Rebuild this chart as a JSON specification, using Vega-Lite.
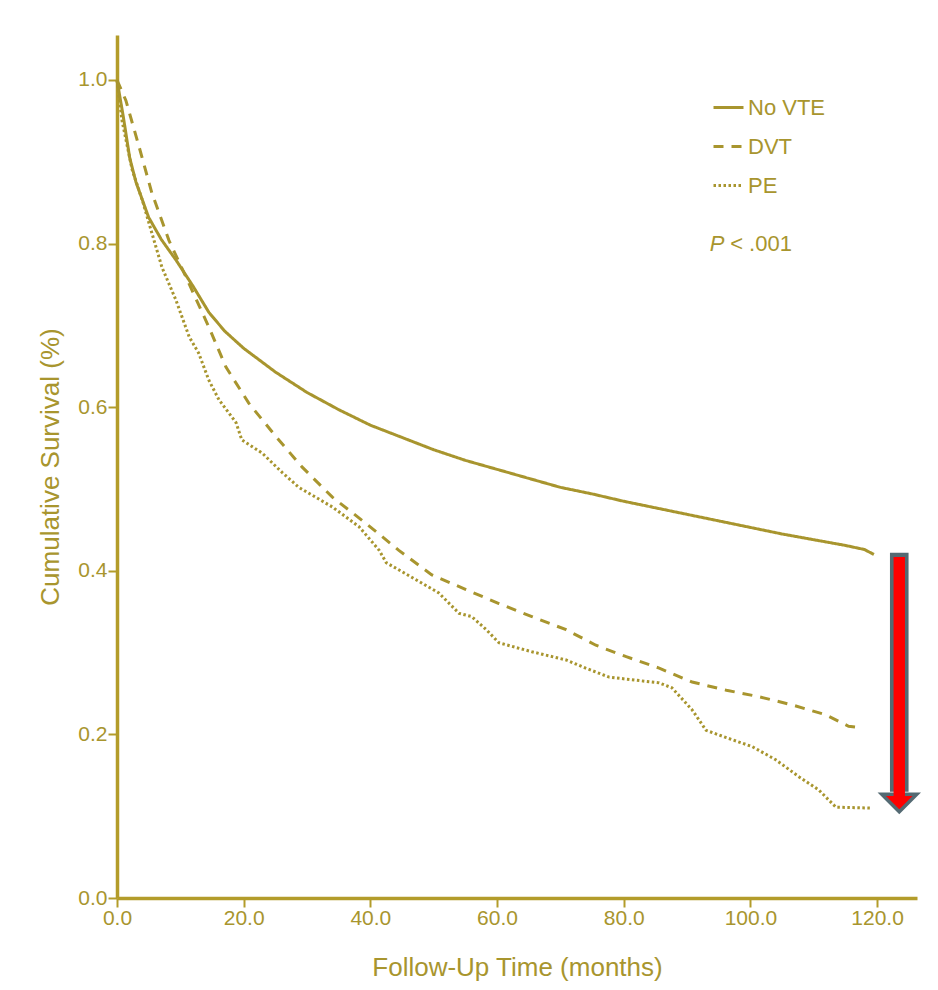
{
  "$schema": "https://vega.github.io/schema/vega-lite/v6.json",
  "autosize": {"type": "none"},
  "width": 800,
  "height": 863,
  "padding": {"left": 117, "top": 35, "right": 21, "bottom": 92},
  "background": "#ffffff",
  "config": {
    "view": {"stroke": null},
    "font": "Liberation Sans",
    "axis": {
      "domainColor": "#B39C2A",
      "domainWidth": 3.5,
      "tickColor": "#B39C2A",
      "tickWidth": 2,
      "tickSize": 9,
      "labelColor": "#A8952E",
      "labelFont": "Liberation Sans",
      "labelFontSize": 21,
      "labelFlush": false,
      "titleColor": "#A8952E",
      "titleFont": "Liberation Sans",
      "titleFontSize": 26,
      "titleFontWeight": "normal",
      "grid": false
    }
  },
  "datasets": {
    "curves": [
      {"group": "No VTE", "t": 0, "s": 1.0},
      {"group": "No VTE", "t": 1, "s": 0.955},
      {"group": "No VTE", "t": 2, "s": 0.905},
      {"group": "No VTE", "t": 3, "s": 0.875},
      {"group": "No VTE", "t": 5, "s": 0.832},
      {"group": "No VTE", "t": 7, "s": 0.805},
      {"group": "No VTE", "t": 9.3, "s": 0.78},
      {"group": "No VTE", "t": 12, "s": 0.748},
      {"group": "No VTE", "t": 14.5, "s": 0.716},
      {"group": "No VTE", "t": 17, "s": 0.693},
      {"group": "No VTE", "t": 20, "s": 0.672},
      {"group": "No VTE", "t": 25, "s": 0.643},
      {"group": "No VTE", "t": 30, "s": 0.618},
      {"group": "No VTE", "t": 35, "s": 0.597},
      {"group": "No VTE", "t": 40, "s": 0.578},
      {"group": "No VTE", "t": 45, "s": 0.563},
      {"group": "No VTE", "t": 50, "s": 0.548},
      {"group": "No VTE", "t": 55, "s": 0.535},
      {"group": "No VTE", "t": 60, "s": 0.524},
      {"group": "No VTE", "t": 65, "s": 0.513},
      {"group": "No VTE", "t": 70, "s": 0.502},
      {"group": "No VTE", "t": 75, "s": 0.494},
      {"group": "No VTE", "t": 80, "s": 0.485},
      {"group": "No VTE", "t": 85, "s": 0.477},
      {"group": "No VTE", "t": 90, "s": 0.469},
      {"group": "No VTE", "t": 95, "s": 0.461},
      {"group": "No VTE", "t": 100, "s": 0.453},
      {"group": "No VTE", "t": 105, "s": 0.445},
      {"group": "No VTE", "t": 110, "s": 0.438},
      {"group": "No VTE", "t": 115, "s": 0.431},
      {"group": "No VTE", "t": 118, "s": 0.426},
      {"group": "No VTE", "t": 119.5, "s": 0.42},
      {"group": "DVT", "t": 0, "s": 1.0},
      {"group": "DVT", "t": 1.4, "s": 0.975},
      {"group": "DVT", "t": 3.5, "s": 0.918},
      {"group": "DVT", "t": 5.5, "s": 0.862},
      {"group": "DVT", "t": 8.2, "s": 0.804},
      {"group": "DVT", "t": 10.9, "s": 0.759},
      {"group": "DVT", "t": 14.5, "s": 0.698},
      {"group": "DVT", "t": 17.2, "s": 0.649},
      {"group": "DVT", "t": 20.8, "s": 0.605},
      {"group": "DVT", "t": 25.1, "s": 0.564},
      {"group": "DVT", "t": 29.2, "s": 0.527},
      {"group": "DVT", "t": 34, "s": 0.49},
      {"group": "DVT", "t": 39.3, "s": 0.458},
      {"group": "DVT", "t": 44.5, "s": 0.425},
      {"group": "DVT", "t": 49.7, "s": 0.395},
      {"group": "DVT", "t": 55.1, "s": 0.377},
      {"group": "DVT", "t": 60.3, "s": 0.36},
      {"group": "DVT", "t": 65.5, "s": 0.344},
      {"group": "DVT", "t": 70.9, "s": 0.328},
      {"group": "DVT", "t": 75.6, "s": 0.309},
      {"group": "DVT", "t": 80.4, "s": 0.295},
      {"group": "DVT", "t": 85.6, "s": 0.281},
      {"group": "DVT", "t": 90.8, "s": 0.264},
      {"group": "DVT", "t": 96.2, "s": 0.254},
      {"group": "DVT", "t": 101.4, "s": 0.246},
      {"group": "DVT", "t": 106.6, "s": 0.236},
      {"group": "DVT", "t": 111.9, "s": 0.224},
      {"group": "DVT", "t": 115.5, "s": 0.21},
      {"group": "DVT", "t": 117.5, "s": 0.208},
      {"group": "PE", "t": 0, "s": 1.0},
      {"group": "PE", "t": 0.8, "s": 0.95},
      {"group": "PE", "t": 2.4, "s": 0.89},
      {"group": "PE", "t": 4, "s": 0.853},
      {"group": "PE", "t": 5.5, "s": 0.813},
      {"group": "PE", "t": 7.1, "s": 0.771},
      {"group": "PE", "t": 9.3, "s": 0.731},
      {"group": "PE", "t": 11.4, "s": 0.686},
      {"group": "PE", "t": 12.9, "s": 0.666},
      {"group": "PE", "t": 14.5, "s": 0.633},
      {"group": "PE", "t": 16.1, "s": 0.609},
      {"group": "PE", "t": 18.8, "s": 0.581},
      {"group": "PE", "t": 19.7, "s": 0.56},
      {"group": "PE", "t": 22.9, "s": 0.544},
      {"group": "PE", "t": 26.1, "s": 0.52},
      {"group": "PE", "t": 28.7, "s": 0.502},
      {"group": "PE", "t": 34, "s": 0.478},
      {"group": "PE", "t": 38.2, "s": 0.454},
      {"group": "PE", "t": 41.4, "s": 0.425},
      {"group": "PE", "t": 42.5, "s": 0.41},
      {"group": "PE", "t": 47.2, "s": 0.389},
      {"group": "PE", "t": 50.8, "s": 0.373},
      {"group": "PE", "t": 54, "s": 0.348},
      {"group": "PE", "t": 56, "s": 0.344},
      {"group": "PE", "t": 58.3, "s": 0.328},
      {"group": "PE", "t": 60.3, "s": 0.312},
      {"group": "PE", "t": 65.5, "s": 0.301},
      {"group": "PE", "t": 70.9, "s": 0.291},
      {"group": "PE", "t": 74, "s": 0.281},
      {"group": "PE", "t": 77.7, "s": 0.27},
      {"group": "PE", "t": 85.6, "s": 0.263},
      {"group": "PE", "t": 87.6, "s": 0.257},
      {"group": "PE", "t": 90.8, "s": 0.23},
      {"group": "PE", "t": 93, "s": 0.205},
      {"group": "PE", "t": 96.2, "s": 0.196},
      {"group": "PE", "t": 100.3, "s": 0.185},
      {"group": "PE", "t": 104, "s": 0.169},
      {"group": "PE", "t": 107.7, "s": 0.148},
      {"group": "PE", "t": 110.8, "s": 0.132},
      {"group": "PE", "t": 113.5, "s": 0.111},
      {"group": "PE", "t": 119, "s": 0.11}
    ],
    "arrow": [
      {"t": 123.5, "top": 0.422, "bottom": 0.13, "redtop": 0.417, "redbottom": 0.124, "head": 0.116}
    ],
    "ptext": [
      {"t": 93.6, "s": 0.8, "label": "P", "style": "italic"},
      {"t": 96.8, "s": 0.8, "label": "< .001", "style": "normal"}
    ]
  },
  "layer": [
    {
      "data": {"name": "curves"},
      "mark": {"type": "line", "strokeWidth": 3, "color": "#A8952E", "interpolate": "linear"},
      "encoding": {
        "x": {
          "field": "t", "type": "quantitative",
          "scale": {"domain": [0, 126.3], "nice": false, "zero": false},
          "axis": {
            "values": [0, 20, 40, 60, 80, 100, 120],
            "format": ".1f",
            "title": "Follow-Up Time (months)",
            "labelPadding": 0,
            "titlePadding": 26
          }
        },
        "y": {
          "field": "s", "type": "quantitative",
          "scale": {"domain": [0, 1.055], "nice": false},
          "axis": {
            "values": [0, 0.2, 0.4, 0.6, 0.8, 1.0],
            "format": ".1f",
            "title": "Cumulative Survival (%)",
            "labelPadding": 1,
            "titlePadding": 14
          }
        },
        "detail": {"field": "group"},
        "strokeDash": {
          "field": "group", "type": "nominal",
          "scale": {"domain": ["No VTE", "DVT", "PE"], "range": [[1, 0], [10, 8], [2.5, 2.5]]},
          "legend": {
            "title": null,
            "orient": "none",
            "legendX": 595,
            "legendY": 56,
            "symbolType": "stroke",
            "symbolSize": 900,
            "symbolStrokeWidth": 3,
            "symbolStrokeColor": "#A8952E",
            "labelColor": "#A8952E",
            "labelFontSize": 22,
            "labelFont": "Liberation Sans",
            "labelOffset": 3,
            "rowPadding": 11
          }
        }
      }
    },
    {
      "data": {"name": "arrow"},
      "mark": {"type": "rule", "color": "#546A73", "strokeWidth": 18.6},
      "encoding": {
        "x": {"field": "t", "type": "quantitative"},
        "y": {"field": "top", "type": "quantitative"},
        "y2": {"field": "bottom"}
      }
    },
    {
      "data": {"name": "arrow"},
      "mark": {"type": "point", "shape": "M-1,-0.5L1,-0.5L0,0.5Z", "size": 1225, "filled": true, "fill": "#FF0000", "fillOpacity": 1, "stroke": "#546A73", "strokeWidth": 3.5, "opacity": 1},
      "encoding": {
        "x": {"field": "t", "type": "quantitative"},
        "y": {"field": "head", "type": "quantitative"}
      }
    },
    {
      "data": {"name": "arrow"},
      "mark": {"type": "rule", "color": "#FF0000", "strokeWidth": 11.4},
      "encoding": {
        "x": {"field": "t", "type": "quantitative"},
        "y": {"field": "redtop", "type": "quantitative"},
        "y2": {"field": "redbottom"}
      }
    },
    {
      "data": {"name": "ptext"},
      "transform": [{"filter": "datum.style == 'italic'"}],
      "mark": {"type": "text", "align": "left", "baseline": "middle", "fontSize": 22, "fontStyle": "italic", "color": "#A8952E", "font": "Liberation Sans"},
      "encoding": {
        "x": {"field": "t", "type": "quantitative"},
        "y": {"field": "s", "type": "quantitative"},
        "text": {"field": "label"}
      }
    },
    {
      "data": {"name": "ptext"},
      "transform": [{"filter": "datum.style == 'normal'"}],
      "mark": {"type": "text", "align": "left", "baseline": "middle", "fontSize": 22, "color": "#A8952E", "font": "Liberation Sans"},
      "encoding": {
        "x": {"field": "t", "type": "quantitative"},
        "y": {"field": "s", "type": "quantitative"},
        "text": {"field": "label"}
      }
    }
  ]
}
